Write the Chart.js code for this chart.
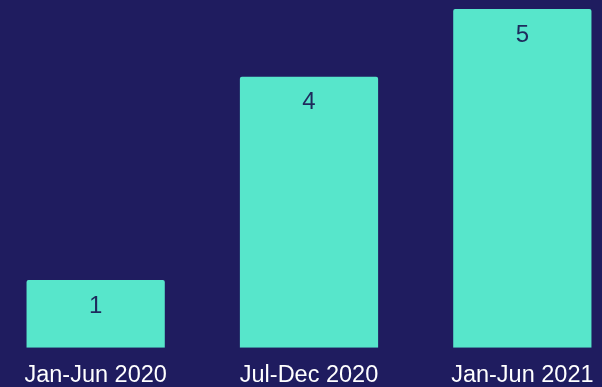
<!DOCTYPE html>
<html><head><meta charset="utf-8">
<script src="https://cdn.jsdelivr.net/npm/chart.js@4"></script>
<style>
html,body{margin:0;padding:0;background:#1f1c5f;overflow:hidden;width:602px;height:387px;}
#wrap{position:absolute;left:-11px;top:0;width:640px;height:404px;}
</style></head><body>
<div id="wrap"><canvas id="c"></canvas></div>
<script>
const categories = ["Jan-Jun 2020", "Jul-Dec 2020", "Jan-Jun 2021"];
const values = [1, 4, 5];

const labelPlugin = {
  id: 'barLabels',
  afterDatasetsDraw(chart) {
    const ctx = chart.ctx;
    const meta = chart.getDatasetMeta(0);
    ctx.save();
    ctx.fillStyle = '#1e2a5c';
    ctx.font = '24px "Liberation Sans", Arial, sans-serif';
    ctx.textAlign = 'center';
    ctx.textBaseline = 'middle';
    meta.data.forEach((bar, i) => {
      ctx.fillText(String(values[i]), bar.x, bar.y + 26);
    });
    ctx.restore();
  }
};

new Chart(document.getElementById('c'), {
  type: 'bar',
  data: {
    labels: categories,
    datasets: [{
      data: values,
      backgroundColor: '#57e6cb',
      borderRadius: 2,
      borderSkipped: 'bottom',
      barPercentage: 0.648,
      categoryPercentage: 1
    }]
  },
  options: {
    responsive: true,
    maintainAspectRatio: false,
    animation: false,
    layout: { padding: { top: 9, left: 0, right: 0, bottom: 0 } },
    plugins: { legend: { display: false }, tooltip: { enabled: false } },
    scales: {
      x: {
        grid: { display: false, drawTicks: false },
        border: { display: false },
        ticks: { color: '#ffffff', font: { family: '"Liberation Sans", Arial, sans-serif', size: 23.5 }, padding: 14, maxRotation: 0 }
      },
      y: {
        display: false,
        min: 0, max: 5
      }
    }
  },
  plugins: [labelPlugin]
});
</script>
</body></html>
